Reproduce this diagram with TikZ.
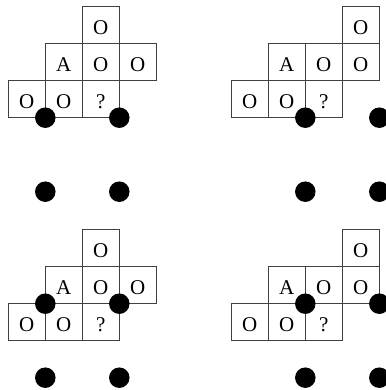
\documentclass[tikz,border=0pt]{standalone}
\usepackage{fontspec}
\setmainfont{Liberation Serif}
\begin{document}
\begin{tikzpicture}[x=1pt,y=-1pt,
  cell/.style={draw=black!75,line width=0.9pt,minimum size=37pt,inner sep=0pt,
    text height=18pt,text depth=0pt,font=\fontsize{21}{21}\selectfont},
  dot/.style={circle,fill=black,minimum size=20.5pt,inner sep=0pt}]
\useasboundingbox (0,0) rectangle (385,390);
% panel 1 (top-left): columns 8.3+37k, rows 6.7+37k
\node[cell] (a1) at (100.8,25.2) {O};
\node[cell] (a2) at (63.8,62.2) {A};
\node[cell] (a3) at (100.8,62.2) {O};
\node[cell] (a4) at (137.8,62.2) {O};
\node[cell] (a5) at (26.8,99.2) {O};
\node[cell] (a6) at (63.8,99.2) {O};
\node[cell] (a7) at (100.8,99.2) {?};
\node[dot] (ad1) at (45.3,117.7) {};
\node[dot] (ad2) at (119.3,117.7) {};
\node[dot] (ad3) at (45.3,191.7) {};
\node[dot] (ad4) at (119.3,191.7) {};
% panel 2 (top-right): columns 231.3+37k
\node[cell] (b1) at (360.8,25.2) {O};
\node[cell] (b2) at (286.8,62.2) {A};
\node[cell] (b3) at (323.8,62.2) {O};
\node[cell] (b4) at (360.8,62.2) {O};
\node[cell] (b5) at (249.8,99.2) {O};
\node[cell] (b6) at (286.8,99.2) {O};
\node[cell] (b7) at (323.8,99.2) {?};
\node[dot] (bd1) at (305.3,117.7) {};
\node[dot] (bd2) at (379.3,117.7) {};
\node[dot] (bd3) at (305.3,191.7) {};
\node[dot] (bd4) at (379.3,191.7) {};
% panel 3 (bottom-left): rows 229.7+37k
\node[cell] (c1) at (100.8,248.2) {O};
\node[cell] (c2) at (63.8,285.2) {A};
\node[cell] (c3) at (100.8,285.2) {O};
\node[cell] (c4) at (137.8,285.2) {O};
\node[cell] (c5) at (26.8,322.2) {O};
\node[cell] (c6) at (63.8,322.2) {O};
\node[cell] (c7) at (100.8,322.2) {?};
\node[dot] (cd1) at (45.3,303.7) {};
\node[dot] (cd2) at (119.3,303.7) {};
\node[dot] (cd3) at (45.3,377.7) {};
\node[dot] (cd4) at (119.3,377.7) {};
% panel 4 (bottom-right)
\node[cell] (d1) at (360.8,248.2) {O};
\node[cell] (d2) at (286.8,285.2) {A};
\node[cell] (d3) at (323.8,285.2) {O};
\node[cell] (d4) at (360.8,285.2) {O};
\node[cell] (d5) at (249.8,322.2) {O};
\node[cell] (d6) at (286.8,322.2) {O};
\node[cell] (d7) at (323.8,322.2) {?};
\node[dot] (dd1) at (305.3,303.7) {};
\node[dot] (dd2) at (379.3,303.7) {};
\node[dot] (dd3) at (305.3,377.7) {};
\node[dot] (dd4) at (379.3,377.7) {};
\end{tikzpicture}
\end{document}
